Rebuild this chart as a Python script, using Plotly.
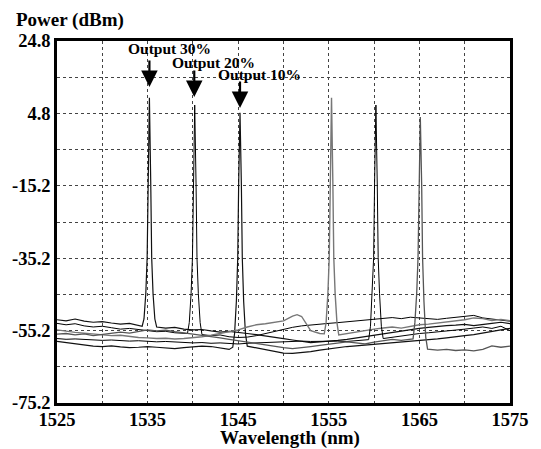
import plotly.graph_objects as go

# ---------------- data ----------------
wl_grid = list(range(1525, 1576))  # 1 nm sampling of the noise floor

base_A = [-52.2, -52.5, -52.0, -52.6, -52.9,
          -52.7, -53.1, -53.4, -53.2, -53.8,
          -54.0, -54.2, -54.5, -54.3, -54.8,
          -55.0, -54.9, -55.3, -55.6, -55.4,
          -55.8, -56.0, -56.3, -56.6, -57.0,
          -57.4, -57.8, -58.1, -58.5, -58.3,
          -58.2, -57.9, -57.6, -57.2, -56.8,
          -56.5, -56.0, -55.7, -55.3, -55.0,
          -54.6, -54.3, -54.0, -53.8, -53.7,
          -53.5, -53.8, -53.4, -53.2, -52.9,
          -53.3]
base_B = [-53.2, -53.6, -53.3, -53.9, -54.2,
          -54.0, -54.4, -54.8, -54.6, -55.0,
          -55.2, -55.5, -55.4, -55.8, -56.0,
          -56.2, -56.3, -56.6, -56.4, -56.9,
          -57.1, -57.0, -56.6, -56.0, -55.4,
          -54.8, -54.3, -53.9, -53.6, -53.4,
          -53.2, -53.0, -52.8, -52.6, -52.3,
          -52.0, -51.8, -51.6, -51.9, -51.5,
          -51.7, -51.9, -52.1, -51.8, -51.6,
          -51.2, -51.0, -51.7, -52.0, -52.3,
          -52.6]
base_C = [-58.2, -58.5, -59.0, -59.2, -59.5,
          -59.6, -59.4, -59.7, -59.9, -59.8,
          -59.6, -59.8, -60.0, -60.2, -59.9,
          -59.7, -59.5, -59.6, -59.9, -60.4,
          -59.0, -59.5, -60.0, -60.5, -61.0,
          -61.4, -61.5, -61.3, -61.0, -60.6,
          -60.2, -59.9, -59.6, -59.4, -59.2,
          -59.0, -58.8, -58.6, -58.4, -58.3,
          -58.0, -57.8, -57.5, -57.2, -57.0,
          -56.6, -56.3, -55.8, -55.4, -55.0,
          -54.6]
base_D = [-55.0, -55.4, -55.7, -55.9, -56.2,
          -56.4, -56.6, -56.5, -56.9, -57.1,
          -57.2, -57.4, -57.3, -57.5, -57.4,
          -57.2, -56.9, -56.5, -56.0, -55.6,
          -55.0, -54.2, -53.6, -53.3, -53.0,
          -52.5, -51.2, -51.3, -55.2, -56.0,
          -56.2, -56.5, -56.0, -55.7, -55.2,
          -54.8, -54.5, -54.2, -54.5, -54.0,
          -53.6, -53.4, -53.1, -52.8, -52.6,
          -52.2, -51.7, -51.9, -52.4, -52.1,
          -52.5]
base_E = [-57.4, -57.6, -57.5, -57.7, -57.8,
          -57.9, -57.8, -58.0, -58.1, -58.0,
          -58.2, -58.3, -58.2, -58.4, -58.5,
          -58.6, -58.5, -58.7, -58.6, -58.8,
          -58.9, -58.7, -58.6, -58.4, -58.3,
          -58.2, -58.2, -58.1, -58.2, -58.1,
          -58.0, -58.1, -58.2, -58.0, -57.8,
          -57.6, -57.4, -57.0, -56.6, -56.3,
          -56.0, -55.8, -55.6, -55.3, -55.1,
          -54.8, -54.5, -54.2, -54.6, -54.0,
          -55.2]
base_F = [-56.2, -56.0, -56.4, -56.1, -56.6,
          -56.3, -56.0, -55.6, -55.9, -55.4,
          -55.0, -55.3, -55.1, -55.5, -55.8,
          -56.2, -56.5, -56.9, -57.2, -57.6,
          -58.0, -58.4, -58.8, -59.3, -59.6,
          -59.9, -60.2, -60.0, -59.6, -59.3,
          -59.0, -58.7, -58.3, -58.6, -58.9,
          -58.4, -58.0, -57.6, -57.9, -57.5,
          -57.2, -60.3, -60.6, -60.4, -60.7,
          -60.5, -60.8, -60.4, -59.4, -59.8,
          -59.5]

# laser lines (peak shape points)
peak_A_x = [1534.4, 1534.6, 1534.8, 1534.95, 1535.05, 1535.2, 1535.35, 1535.45, 1535.6, 1535.8, 1536.0]
peak_A_y = [-54.0, -52.0, -45.0, -35.0, -15.0, 9.1, -15.0, -35.0, -45.0, -52.0, -54.2]
peak_B_x = [1539.4, 1539.6, 1539.8, 1539.95, 1540.05, 1540.2, 1540.35, 1540.45, 1540.6, 1540.8, 1541.0]
peak_B_y = [-56.0, -53.0, -45.0, -35.0, -15.0, 7.1, -15.0, -35.0, -45.0, -53.0, -56.3]
peak_C_x = [1544.4, 1544.6, 1544.8, 1544.95, 1545.05, 1545.2, 1545.35, 1545.45, 1545.6, 1545.8, 1546.0]
peak_C_y = [-59.8, -56.0, -47.0, -35.0, -15.0, 5.0, -15.0, -35.0, -47.0, -56.0, -59.5]
peak_D_x = [1554.5, 1554.7, 1554.9, 1555.05, 1555.15, 1555.3, 1555.45, 1555.55, 1555.7, 1555.9, 1556.1]
peak_D_y = [-56.1, -53.0, -45.0, -35.0, -15.0, 9.1, -15.0, -35.0, -45.0, -53.0, -56.4]
peak_E_x = [1559.4, 1559.6, 1559.8, 1559.95, 1560.05, 1560.2, 1560.35, 1560.45, 1560.6, 1560.8, 1561.0]
peak_E_y = [-57.7, -54.0, -45.0, -35.0, -15.0, 7.1, -15.0, -35.0, -45.0, -54.0, -57.4]
peak_F_x = [1564.3, 1564.5, 1564.7, 1564.85, 1564.95, 1565.1, 1565.25, 1565.35, 1565.5, 1565.7, 1565.9]
peak_F_y = [-57.5, -53.0, -45.0, -35.0, -15.0, 3.8, -15.0, -35.0, -47.0, -57.0, -60.3]

# small extra feature on trace D (bump near 1551.5 nm)
extra_D_x = [1551.5, 1552.5]
extra_D_y = [-50.8, -53.2]

trace_names = ["A", "B", "C", "D", "E", "F"]
bases = [base_A, base_B, base_C, base_D, base_E, base_F]
peaks_x = [peak_A_x, peak_B_x, peak_C_x, peak_D_x, peak_E_x, peak_F_x]
peaks_y = [peak_A_y, peak_B_y, peak_C_y, peak_D_y, peak_E_y, peak_F_y]
colors = ["#111111", "#000000", "#111111", "#777777", "#000000", "#555555"]
widths = [1.2, 1.0, 1.2, 1.4, 1.0, 1.3]

x_ticks = [1525, 1530, 1535, 1540, 1545, 1550, 1555, 1560, 1565, 1570, 1575]
x_text = ["1525", "", "1535", "", "1545", "", "1555", "", "1565", "", "1575"]
y_ticks = [-75.2, -65.2, -55.2, -45.2, -35.2, -25.2, -15.2, -5.2, 4.8, 14.8, 24.8]
y_text = ["-75.2", "", "-55.2", "", "-35.2", "", "-15.2", "", "4.8", "", "24.8"]

labels = ["Output 30%", "Output 20%", "Output 10%"]
label_x = [1537.4, 1542.3, 1547.4]
label_y = [22.6, 19.0, 15.6]
arrow_tip_x = [1535.2, 1540.15, 1545.2]
arrow_tip_y = [12.1, 9.3, 6.3]

# ---------------- figure ----------------
fig = go.Figure()
for name, base, px, py, c, w in zip(trace_names, bases, peaks_x, peaks_y, colors, widths):
    lo, hi = px[0], px[-1]
    pts = [(x, y) for x, y in zip(wl_grid, base) if not (lo - 0.1 <= x <= hi + 0.1)]
    pts += list(zip(px, py))
    if name == "D":
        pts += list(zip(extra_D_x, extra_D_y))
    pts.sort()
    fig.add_trace(go.Scatter(x=[p[0] for p in pts], y=[p[1] for p in pts],
                             mode="lines", line=dict(color=c, width=w),
                             hoverinfo="skip", name=name))

bold = dict(family="Liberation Serif", size=19, color="black", weight="bold")
tickbold = dict(family="Liberation Serif", size=18.5, color="black", weight="bold")

for t, lx, ly in zip(labels, label_x, label_y):
    fig.add_annotation(x=lx, y=ly, text=t, showarrow=False,
                       font=dict(family="Liberation Serif", size=15.5, color="black", weight="bold"),
                       xanchor="center", yanchor="middle")
for tx, ty in zip(arrow_tip_x, arrow_tip_y):
    fig.add_annotation(x=tx, y=ty, text="", showarrow=True, ax=0, ay=-28,
                       arrowhead=2, arrowsize=1.5, arrowwidth=2.2, arrowcolor="black",
                       standoff=0)

fig.add_annotation(xref="paper", yref="paper", x=-0.095, y=1.058, text="Power (dBm)",
                   showarrow=False, xanchor="left", yanchor="middle", font=bold)
fig.add_annotation(xref="paper", yref="paper", x=0.514, y=-0.096, text="Wavelength (nm)",
                   showarrow=False, xanchor="center", yanchor="middle", font=bold)

axis_common = dict(showgrid=True, gridcolor="#444444", griddash="dot", gridwidth=1,
                   showline=True, mirror=True, linecolor="black", linewidth=2.5,
                   ticks="", zeroline=False, tickfont=tickbold)
fig.update_xaxes(range=[1525, 1575], tickmode="array", tickvals=x_ticks, ticktext=x_text,
                 ticklabelstandoff=-2, **axis_common)
fig.update_yaxes(range=[-75.2, 24.8], tickmode="array", tickvals=y_ticks, ticktext=y_text,
                 **axis_common)

fig.update_layout(width=541, height=449, margin=dict(l=57, r=19, t=41, b=46),
                  paper_bgcolor="white", plot_bgcolor="white", showlegend=False,
                  font=dict(family="Liberation Serif", color="black"))

fig.write_html("out.html")
